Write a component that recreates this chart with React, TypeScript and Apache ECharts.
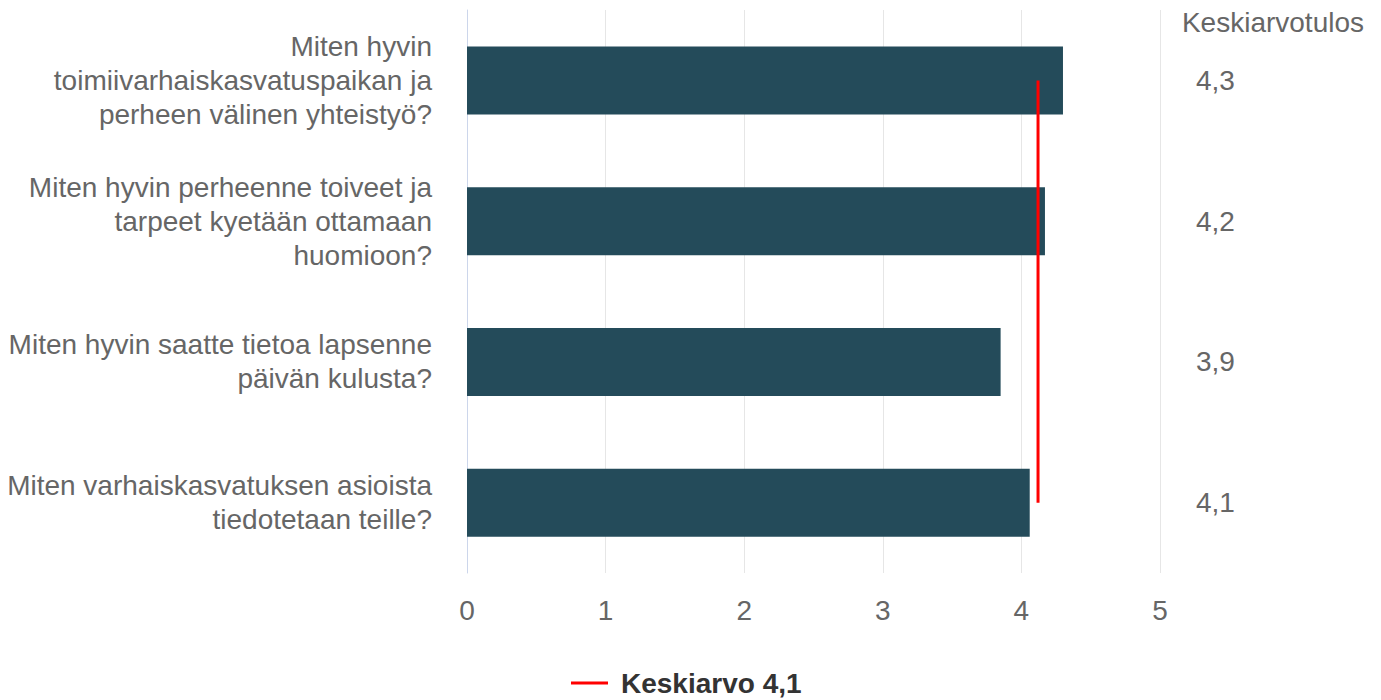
import React, { useEffect, useRef } from "react";
import * as echarts from "echarts";

const categories: string[] = [
  "Miten hyvin\ntoimiivarhaiskasvatuspaikan ja\nperheen välinen yhteistyö?",
  "Miten hyvin perheenne toiveet ja\ntarpeet kyetään ottamaan\nhuomioon?",
  "Miten hyvin saatte tietoa lapsenne\npäivän kulusta?",
  "Miten varhaiskasvatuksen asioista\ntiedotetaan teille?",
];
const barValues: number[] = [4.3, 4.17, 3.85, 4.06];
const meanValues: number[] = [4.12, 4.12, 4.12, 4.12];
const rightLabels: string[] = ["4,3", "4,2", "3,9", "4,1"];
const xTicks: number[] = [0, 1, 2, 3, 4, 5];
const meanName = "Keskiarvo 4,1";
const rightHeader = "Keskiarvotulos";

const FONT = "'Liberation Sans', Arial, sans-serif";

export default function App() {
  const ref = useRef<HTMLDivElement>(null);
  useEffect(() => {
    document.body.style.margin = "0";
    const chart = echarts.init(ref.current!, null, { renderer: "svg" });
    chart.setOption({
      animation: false,
      textStyle: { fontFamily: FONT },
      title: {
        text: rightHeader,
        right: 12,
        top: 3,
        textStyle: { fontSize: 28, fontWeight: "normal", color: "#666", fontFamily: FONT },
      },
      legend: {
        data: [meanName],
        left: 571,
        top: 669,
        padding: 0,
        icon: "rect",
        itemWidth: 37,
        itemHeight: 3,
        textStyle: {
          fontSize: 28,
          lineHeight: 28,
          fontWeight: "bold",
          color: "#333",
          fontFamily: FONT,
          padding: [0, 0, 0, 8],
        },
      },
      grid: { left: 467, right: 221, top: 10, height: 563 },
      xAxis: {
        type: "value",
        min: xTicks[0],
        max: xTicks[xTicks.length - 1],
        interval: 1,
        axisLine: { show: false },
        axisTick: { show: false },
        splitLine: { lineStyle: { color: "#e6e6e6", width: 1 } },
        axisLabel: { fontSize: 28, color: "#666", margin: 23, fontFamily: FONT },
      },
      yAxis: [
        {
          type: "category",
          data: categories,
          inverse: true,
          axisLine: { show: true, lineStyle: { color: "#ccd6eb", width: 1 } },
          axisTick: { show: false },
          axisLabel: {
            fontSize: 28,
            color: "#666",
            margin: 35,
            lineHeight: 34,
            align: "right",
            padding: [8, 0, 0, 0],
            fontFamily: FONT,
          },
        },
        {
          type: "category",
          data: rightLabels,
          inverse: true,
          position: "right",
          axisLine: { show: false },
          axisTick: { show: false },
          axisLabel: {
            fontSize: 28,
            color: "#666",
            margin: 36,
            align: "left",
            padding: [4, 0, 0, 0],
            fontFamily: FONT,
          },
        },
      ],
      series: [
        {
          type: "bar",
          name: "Keskiarvotulos",
          data: barValues,
          yAxisIndex: 0,
          barWidth: 68,
          itemStyle: { color: "#244b5a" },
        },
        {
          type: "line",
          name: meanName,
          data: meanValues,
          yAxisIndex: 0,
          symbol: "none",
          lineStyle: { color: "#ff0000", width: 3 },
          itemStyle: { color: "#ff0000" },
          z: 5,
        },
      ],
    });
    return () => chart.dispose();
  }, []);
  return <div ref={ref} style={{ width: 1381, height: 700 }} />;
}
